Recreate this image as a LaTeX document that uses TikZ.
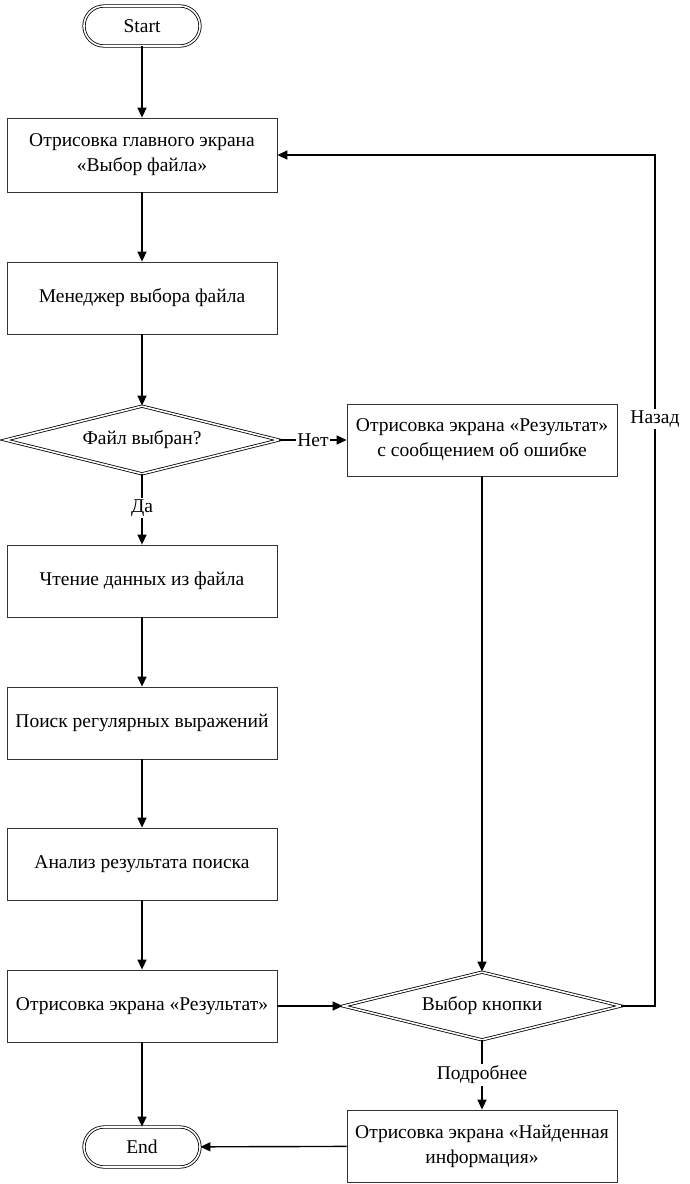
\documentclass[tikz,border=0pt]{standalone}
\usepackage{fontspec}
\setmainfont{Liberation Serif}
\usetikzlibrary{shapes.geometric,arrows.meta}
\begin{document}
\begin{tikzpicture}[x=1pt,y=-1pt,
  font=\fontsize{19.5}{25}\selectfont,
  proc/.style={draw=black!80, line width=0.8pt, fill=white, minimum width=270pt, minimum height=72pt, align=center, inner sep=2pt},
  term/.style={draw=black, double=white, double distance=1.6pt, line width=0.8pt, rounded corners=20pt, minimum width=116pt, minimum height=40pt, inner sep=0pt},
  dec/.style={diamond, aspect=4, draw=black, double=white, double distance=1.6pt, line width=0.8pt, minimum width=274pt, minimum height=68pt, inner sep=0pt, align=center},
  conn/.style={line width=1.4pt, -{Triangle[length=10pt,width=9pt]}},
  lab/.style={fill=white, inner sep=1.5pt}
]
\useasboundingbox (0,0) rectangle (690,1184);
\node[term] (start) at (142,26) {Start};
\node[proc, minimum height=74pt] (b1) at (142,155) {Отрисовка главного экрана\\«Выбор файла»};
\node[proc] (b2) at (142,298) {Менеджер выбора файла};
\node[dec] (d1) at (142,440) {Файл выбран?};
\node[proc] (err) at (482,440) {Отрисовка экрана «Результат»\\с сообщением об ошибке};
\node[proc] (b3) at (142,581) {Чтение данных из файла};
\node[proc] (b4) at (142,723) {Поиск регулярных выражений};
\node[proc] (b5) at (142,864) {Анализ результата поиска};
\node[proc] (b6) at (142,1006) {Отрисовка экрана «Результат»};
\node[dec, minimum width=278pt] (d2) at (482,1006) {Выбор кнопки};
\node[proc] (det) at (482,1146) {Отрисовка экрана «Найденная\\информация»};
\node[term] (end) at (142,1147) {End};
\coordinate (c1) at (655,1006);
\coordinate (c2) at (655,155);

\draw[conn] (start) -- (b1);
\draw[conn] (b1) -- (b2);
\draw[conn] (b2) -- (d1);
\draw[conn] (d1) -- node[lab]{Нет} (err);
\draw[conn] (d1) -- node[lab, pos=0.48]{Да} (b3);
\draw[conn] (b3) -- (b4);
\draw[conn] (b4) -- (b5);
\draw[conn] (b5) -- (b6);
\draw[conn] (b6) -- (end);
\draw[conn] (b6) -- (d2);
\draw[conn] (err) -- (d2);
\draw[conn] (d2) -- node[lab, pos=0.5]{Подробнее} (det);
\draw[conn] (det) -- (end);
\draw[conn] (d2.east) -- (c1) -- node[lab, pos=0.69]{Назад} (c2) -- (b1.east);
\end{tikzpicture}
\end{document}
